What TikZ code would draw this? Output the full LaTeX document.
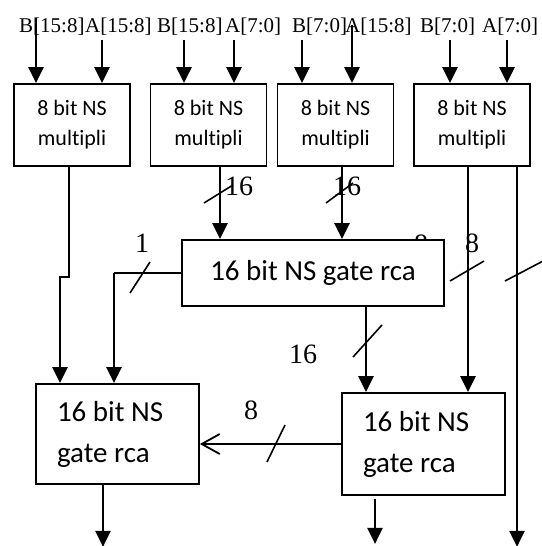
\documentclass[tikz,border=0pt]{standalone}
\usepackage{fontspec}
\setmainfont{Liberation Serif}
\newfontfamily\boxfont[Ligatures=NoCommon]{Carlito}
\usetikzlibrary{arrows.meta}
\tikzset{
  wire/.style={line width=2.6pt},
  thinwire/.style={line width=1.8pt},
  tip/.style={-{Triangle[width=15pt,length=16pt]}},
  barb/.style={-{Straight Barb[length=18pt,width=20pt]}},
  slash/.style={line width=1.6pt},
  mulbox/.style={draw,line width=1.8pt,minimum width=116pt,minimum height=82pt,
    font=\boxfont\fontsize{22}{30}\selectfont,align=center,inner sep=0pt},
  rcabox/.style={draw,fill=white,line width=1.8pt,
    font=\boxfont\fontsize{29}{41}\selectfont,inner sep=0pt},
  operand/.style={font=\fontsize{21}{21}\selectfont,inner sep=0pt},
  buswidth/.style={font=\fontsize{28}{28}\selectfont,inner sep=0pt}
}
\begin{document}
\begin{tikzpicture}[x=1pt,y=-1pt,line cap=butt]
  \useasboundingbox (0,0) rectangle (541,546);
  % operand labels and inputs
  \foreach \x/\lab [count=\i] in {19/B[15:8],85/A[15:8],157/B[15:8],225/A[7:0],292/B[7:0],345/A[15:8],420/B[7:0],482/A[7:0]}
    \node[operand,anchor=base west] (in\i) at (\x,32) {\lab};
  \foreach \n/\x in {1/72,2/208.5,3/335.5,4/472}
    \node[mulbox] (m\n) at (\x,125) {8 bit NS\\multipli};
  \foreach \x/\top in {36/18,102/40,184/40,234/40,302/40,352/25,450/40,507/40}
    \draw[wire,tip] (\x,\top) -- (m1.north -| \x,0);
  % adders
  \node[buswidth] (w0) at (421,244) {8};
  \node[rcabox,minimum width=262pt,minimum height=66pt] (g1) at (313,273) {16 bit NS gate rca};
  \node[rcabox,text width=121pt,inner xsep=21pt,minimum height=100pt,align=flush left] (g2) at (117.5,434) {16 bit NS\\gate rca};
  \node[rcabox,text width=121pt,inner xsep=21pt,minimum height=102pt,align=flush left] (g3) at (423.5,444) {16 bit NS\\gate rca};
  % connections
  \draw[wire,tip] ([xshift=-3pt]m1.south) -- ++(0,110) -- ++(-9,0) -- (g2.north -| 60,0);
  \draw[thinwire] (g1.west) -- (g1.west -| 114,0) coordinate (c1);
  \draw[wire,tip] (c1) -- (c1 |- g2.north);
  \draw[wire,tip] ([xshift=11.5pt]m2.south) -- ([xshift=11.5pt]m2.south |- g1.north);
  \draw[wire,tip] ([xshift=6.5pt]m3.south) -- ([xshift=6.5pt]m3.south |- g1.north);
  \draw[wire,tip] ([xshift=53pt]g1.south) -- ([xshift=53pt]g1.south |- g3.north);
  \draw[wire,tip] ([xshift=-4pt]m4.south) -- ([xshift=-4pt]m4.south |- g3.north);
  \draw[wire,tip] ([xshift=45pt]m4.south) -- ++(0,380);
  \draw[thinwire,barb] (g3.west) -- (g2.east |- g3.west);
  \draw[wire,tip] ([xshift=-14.5pt]g2.south) -- ++(0,62);
  \draw[wire,tip] ([xshift=-48.5pt,yshift=-3pt]g3.south) -- ++(0,45);
  % bus width marks
  \foreach \a/\b/\c/\d in {204/203/233/185,326/203/353/183,130/293/150/262,353/357/382/325,450/281/484/261,505/281/545/260,267/462/285/425}
    \draw[slash] (\a,\b) -- (\c,\d);
  \node[buswidth] (w1) at (239,186) {16};
  \node[buswidth] (w2) at (347,186) {16};
  \node[buswidth] (w3) at (142,243) {1};
  \node[buswidth] (w4) at (303,354) {16};
  \node[buswidth] (w5) at (472,243) {8};
  \node[buswidth] (w6) at (251,410) {8};
\end{tikzpicture}
\end{document}
